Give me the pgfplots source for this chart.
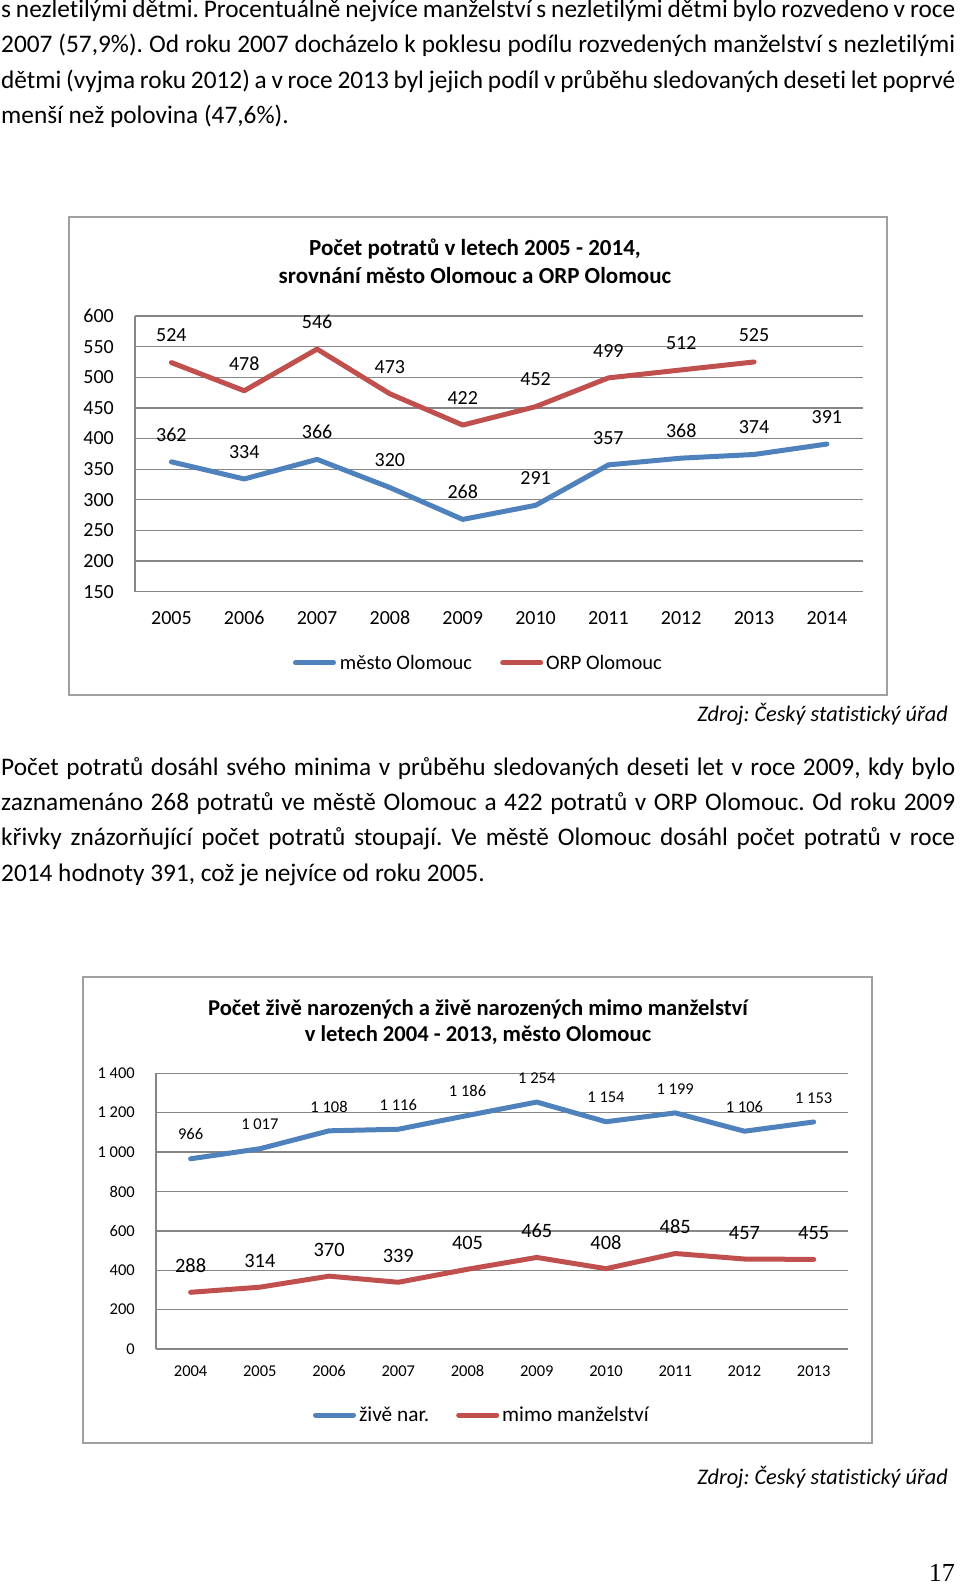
\documentclass[border=0pt]{standalone}
\usepackage{fontspec}
\setmainfont{Carlito}[Ligatures=NoCommon]
\newfontfamily\timesfont{Liberation Serif}
\usepackage{pgfplots}
\pgfplotsset{compat=1.18}
\definecolor{sblue}{HTML}{4F81BD}
\definecolor{sred}{HTML}{C0504D}
\definecolor{gridgray}{HTML}{868686}
\definecolor{boxgray}{HTML}{A0A0A0}
\newcommand{\fs}[1]{\fontsize{#1pt}{#1pt}\selectfont}
\pgfplotsset{/pgf/number format/assume math mode=true}
\frenchspacing
\begin{document}
\frenchspacing
\begin{tikzpicture}[x=1pt,y=1pt]
\useasboundingbox (0,0) rectangle (960,-1588);
% ---------- paragraph 1
\begin{scope}[every node/.style={anchor=base west, inner sep=0pt}]
\node at (1,-17.5) {\fs{25.3}\makebox[954pt][s]{s nezletilými dětmi. Procentuálně nejvíce manželství s nezletilými dětmi bylo rozvedeno v roce}};
\node at (1,-52.5) {\fs{25.3}\makebox[954pt][s]{2007 (57,9\%). Od roku 2007 docházelo k poklesu podílu rozvedených manželství s nezletilými}};
\node at (1,-88) {\fs{25.3}\makebox[954pt][s]{dětmi (vyjma roku 2012) a v roce 2013 byl jejich podíl v průběhu sledovaných deseti let poprvé}};
\node at (1,-123.5) {\fs{25.3}menší než polovina (47,6\%).};
% ---------- paragraph 2
\node at (1,-775) {\fs{25.3}\makebox[954pt][s]{Počet potratů dosáhl svého minima v průběhu sledovaných deseti let v roce 2009, kdy bylo}};
\node at (1,-810.4) {\fs{25.3}\makebox[954pt][s]{zaznamenáno 268 potratů ve městě Olomouc a 422 potratů v ORP Olomouc. Od roku 2009}};
\node at (1,-845.8) {\fs{25.3}\makebox[954pt][s]{křivky znázorňující počet potratů stoupají. Ve městě Olomouc dosáhl počet potratů v roce}};
\node at (1,-881.2) {\fs{25.3}2014 hodnoty 391, což je nejvíce od roku 2005.};
\end{scope}
\node[anchor=base east, inner sep=0pt] at (948,-721) {\fs{22.3}\itshape Zdroj: Český statistický úřad};
\node[anchor=base east, inner sep=0pt] at (948,-1484) {\fs{22.3}\itshape Zdroj: Český statistický úřad};
\node[anchor=base east, inner sep=0pt] at (955,-1581) {\timesfont\fs{26}17};
% ---------- chart boxes
\draw[boxgray, line width=2pt] (68.5,-217) rectangle (887,-695);
\draw[boxgray, line width=2pt] (83.3,-976.7) rectangle (871.7,-1443.3);
% ---------- chart 1 title
\node[anchor=base, inner sep=0pt] at (475,-255) {\fs{23}\bfseries Počet potratů v letech 2005 - 2014,};
\node[anchor=base, inner sep=0pt] at (475,-283) {\fs{23}\bfseries srovnání město Olomouc a ORP Olomouc};
% ---------- chart 2 title
\node[anchor=base, inner sep=0pt] at (478,-1015) {\fs{22.6}\bfseries Počet živě narozených a živě narozených mimo manželství};
\node[anchor=base, inner sep=0pt] at (478,-1041) {\fs{22.6}\bfseries v letech 2004 - 2013, město Olomouc};

% ---------- chart 1
\begin{axis}[
  scale only axis, width=728.3pt, height=275.7pt,
  at={(135pt,-591.7pt)}, anchor=south west,
  xmin=-0.5, xmax=9.5, ymin=150, ymax=600,
  xtick={0,1,2,3,4,5,6,7,8,9},
  xticklabels={2005,2006,2007,2008,2009,2010,2011,2012,2013,2014},
  ytick={150,200,250,300,350,400,450,500,550,600},
  ymajorgrids, grid style={gridgray, line width=1.3pt},
  axis x line*=bottom, axis y line*=left,
  axis line style={gridgray, line width=1.3pt, -},
  major tick length=0pt,
  clip=false,
  xticklabel style={font=\fs{20}, anchor=base, inner sep=0pt, yshift=-32.6pt},
  yticklabel style={font=\fs{20}, anchor=east, inner sep=0pt, xshift=-21pt},
  legend style={draw=none, fill=none, at={(axis description cs:0.2169,-0.2575)}, anchor=west,
    inner sep=0pt, outer sep=0pt, font=\fs{20.5}, legend columns=2,
    nodes={inner sep=0pt}, column sep=0pt},
  legend image code/.code={\draw[#1, line width=5pt, line cap=round] (2.5pt,0pt) -- (40.5pt,0pt);},
  every node near coord/.append style={font=\fs{20}, anchor=base, inner sep=0pt, yshift=20.7pt, text=black},
]
\addplot[sblue, line width=5pt, line join=round, line cap=round, nodes near coords]
  coordinates {(0,362) (1,334) (2,366) (3,320) (4,268) (5,291) (6,357) (7,368) (8,374) (9,391)};
\addlegendentry{\rule{4pt}{0pt}město Olomouc\rule{28pt}{0pt}}
\addplot[sred, line width=5pt, line join=round, line cap=round, nodes near coords]
  coordinates {(0,524) (1,478) (2,546) (3,473) (4,422) (5,452) (6,499) (7,512) (8,525)};
\addlegendentry{\rule{3pt}{0pt}ORP Olomouc}
\end{axis}

% ---------- chart 2
\begin{axis}[
  scale only axis, width=692.3pt, height=275.7pt,
  at={(156pt,-1349pt)}, anchor=south west,
  xmin=-0.5, xmax=9.5, ymin=0, ymax=1400,
  xtick={0,1,2,3,4,5,6,7,8,9},
  xticklabels={2004,2005,2006,2007,2008,2009,2010,2011,2012,2013},
  ytick={0,200,400,600,800,1000,1200,1400},
  /pgf/number format/1000 sep={\ },
  ymajorgrids, grid style={gridgray, line width=1.3pt},
  axis x line*=bottom, axis y line*=left,
  axis line style={gridgray, line width=1.3pt, -},
  major tick length=0pt,
  clip=false,
  xticklabel style={font=\fs{16.5}, anchor=base, inner sep=0pt, yshift=-27.9pt},
  yticklabel style={font=\fs{16.5}, anchor=east, inner sep=0pt, xshift=-21pt},
  legend style={draw=none, fill=none, at={(axis description cs:0.2268,-0.2394)}, anchor=west,
    inner sep=0pt, outer sep=0pt, font=\fs{21.3}, legend columns=2,
    nodes={inner sep=0pt}, column sep=0pt},
  legend image code/.code={\draw[#1, line width=5pt, line cap=round] (2.5pt,0pt) -- (40.5pt,0pt);},
]
\addplot[sblue, line width=5pt, line join=round, line cap=round, nodes near coords,
  nodes near coords style={font=\fs{16.5}, anchor=base, inner sep=0pt, yshift=18.8pt, text=black}]
  coordinates {(0,966) (1,1017) (2,1108) (3,1116) (4,1186) (5,1254) (6,1154) (7,1199) (8,1106) (9,1153)};
\addlegendentry{\rule{3pt}{0pt}živě nar.\rule{27pt}{0pt}}
\addplot[sred, line width=5pt, line join=round, line cap=round, nodes near coords,
  nodes near coords style={font=\fs{20.4}, anchor=base, inner sep=0pt, yshift=19.6pt, text=black}]
  coordinates {(0,288) (1,314) (2,370) (3,339) (4,405) (5,465) (6,408) (7,485) (8,457) (9,455)};
\addlegendentry{\rule{3pt}{0pt}mimo manželství}
\end{axis}
\end{tikzpicture}
\end{document}
